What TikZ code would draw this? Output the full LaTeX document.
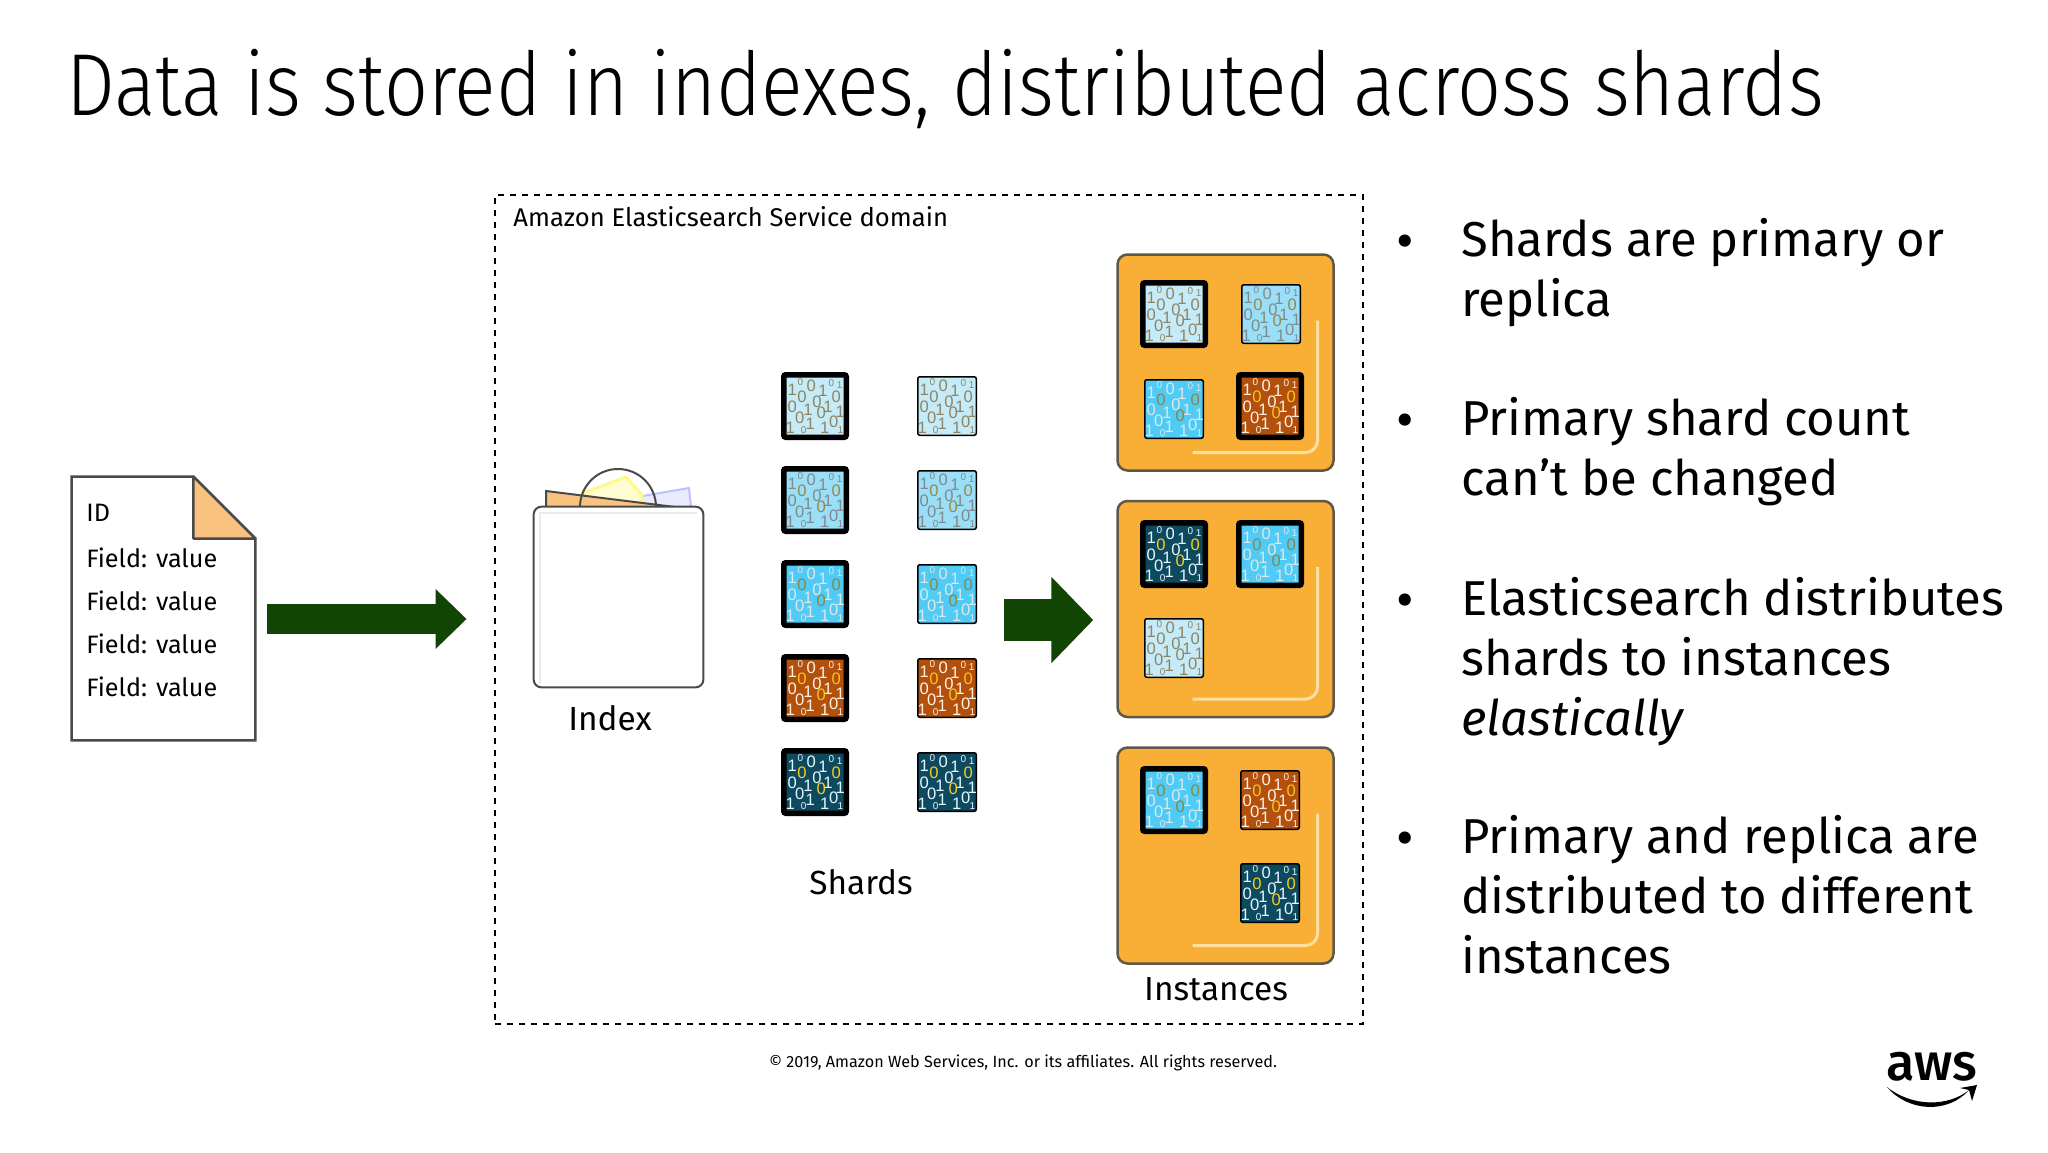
\documentclass[tikz,border=0pt]{standalone}
\usepackage{fontspec}
\setmainfont{Fira Sans}
\newfontfamily\titlefont[FakeStretch=0.878]{Fira Sans Light}
\newfontfamily\bitfont{Liberation Sans}
\newfontfamily\logofont{Fira Sans Medium}
\usetikzlibrary{shapes,arrows,arrows.meta,calc,positioning}

\definecolor{flowgreen}{HTML}{124503}
\definecolor{foldorange}{HTML}{F9C27F}
\definecolor{instorange}{HTML}{F9AE35}
\definecolor{instedge}{HTML}{5F5747}
\definecolor{docedge}{HTML}{4A4A4A}
\definecolor{palefill}{HTML}{C5EBF8}
\definecolor{midfill}{HTML}{9ADFF7}
\definecolor{skyfill}{HTML}{4FCBF5}
\definecolor{rustfill}{HTML}{B2500C}
\definecolor{tealfill}{HTML}{0D4A60}

\tikzset{
  shard/.style={draw=black, rounded corners=1pt, minimum size=29.25pt, inner sep=0pt, line width=0.75pt},
  primary/.style={shard, minimum size=31.25pt, line width=2.75pt},
  pale/.style={fill=palefill},
  mid/.style={fill=midfill},
  sky/.style={fill=skyfill},
  rust/.style={fill=rustfill},
  teal/.style={fill=tealfill},
  bit/.style={inner sep=0pt, font=\bitfont\fontsize{\ds}{\ds}\selectfont, text=bit\tn},
  instance/.style={draw=instedge, fill=instorange, line width=1.25pt, rounded corners=5pt, minimum width=108pt, minimum height=108pt},
  flow/.style={draw=flowgreen, -{Triangle[length=15.5pt,width=29pt]}},
  bullet/.style={anchor=north west, inner sep=0pt, align=left, font=\fontsize{24.5}{30}\selectfont},
  dot/.style={inner sep=0pt, font=\fontsize{27}{27}\selectfont},
  field/.style={anchor=base west, inner sep=0pt, font=\fontsize{12.6}{12.6}\selectfont},
  caption/.style={anchor=base, inner sep=0pt, font=\fontsize{16.7}{16.7}\selectfont}
}

% digits of one shard, offsets from its centre
\newcommand{\bits}[3]{
  \colorlet{bitp}{#2}\colorlet{bitg}{#3}
  \foreach \dx/\dy/\dg/\ds/\tn [count=\ci] in {
    -22.7/-16.3/1/8.3/p, -14.7/-24.3/0/5/p, -3.7/-20.3/0/8.3/p, 8/-15.7/1/8.3/p, 16.3/-22.7/0/5/p, 24.7/-21/1/5/p,
    -22.7/0.3/0/8.3/p, -13/-9.7/0/8.3/g, -7/3.7/1/8.3/p, 2/-4.7/0/8.3/p, 13/0.3/1/8.3/p, 6.3/7/0/8.3/g, 21.3/-9.7/0/8.3/g, 25.3/6/1/8.3/p,
    -24.7/21.3/1/8.3/p, -15.3/12/0/8.3/p, -11.3/23.7/0/5/p, -4.7/18/1/8.3/p, 9.7/22/1/8.3/p, 18.7/15.3/0/8.3/p, 25.3/24.3/1/5/p}
    \node[bit] (#1b\ci) at ([shift={(\dx,\dy)}]#1.center) {\dg};
}
\definecolor{palebit}{HTML}{8E8464}
\definecolor{midbit}{HTML}{7E8A8E}
\definecolor{midgold}{HTML}{968A44}
\definecolor{skybit}{HTML}{DCE8EA}
\definecolor{skygold}{HTML}{8E8640}
\newcommand{\palebits}[1]{\bits{#1}{palebit}{palebit}}
\newcommand{\midbits}[1]{\bits{#1}{midbit}{midgold}}
\newcommand{\skybits}[1]{\bits{#1}{skybit}{skygold}}
\newcommand{\rustbits}[1]{\bits{#1}{white!90!orange}{yellow!50!orange!90!white}}
\newcommand{\tealbits}[1]{\bits{#1}{white!90!cyan}{yellow!60!orange!90!white}}

\begin{document}
\begin{tikzpicture}[x=0.5pt, y=-0.5pt]
  \useasboundingbox (0,0) rectangle (2048,1152);

  \node[anchor=base west, inner sep=0pt, font=\titlefont\fontsize{44}{44}\selectfont] (title) at (66,115)
    {Data is stored in indexes, distributed across shards};

  % domain box
  \node[draw, dashed, line width=0.75pt, minimum width=434pt, minimum height=414.5pt, inner sep=0pt] (domain) at (929,609.5) {};
  \node[anchor=base west, inner sep=0pt, font=\fontsize{12.8}{12.8}\selectfont] (domainlabel) at (513,226)
    {Amazon Elasticsearch Service domain};

  % document
  \node[minimum width=91.5pt, minimum height=131.5pt, inner sep=0pt] (doc) at (163.5,608.5) {};
  \draw[draw=docedge, line width=1.25pt, fill=white] (doc.north west) -- ($(doc.north east)+(-62,0)$)
    -- ($(doc.north east)+(0,62)$) -- (doc.south east) -- (doc.south west) -- cycle;
  \draw[draw=docedge, line width=1.25pt, fill=foldorange, line join=round] ($(doc.north east)+(-62,0)$)
    -- ($(doc.north east)+(0,62)$) -- ($(doc.north east)+(-62,62)$) -- cycle;
  \node[field] (id) at (86,521) {ID};
  \node[field] (f1) at (86,567) {Field: value};
  \node[field] (f2) at (86,610) {Field: value};
  \node[field] (f3) at (86,653) {Field: value};
  \node[field] (f4) at (86,696) {Field: value};

  % index bag
  \node[minimum width=84.5pt, minimum height=90pt, inner sep=0pt] (index) at (618.5,597) {};
  \draw[draw=blue!25!white, line width=1pt, fill=blue!8!white] (631,498) -- (689,488) -- (691,507) -- (637,507) -- cycle;
  \draw[draw=yellow!45!white, line width=1.5pt, fill=yellow!18!white] (583,493) -- (626,477) -- (642,495) -- (642,507) -- (587,500) -- cycle;
  \draw[draw=docedge, line width=1pt, fill=foldorange] (546,491) -- (675,507) -- (546,507) -- cycle;
  \draw[draw=docedge, line width=1pt] (580,507) arc[start angle=180, end angle=360, radius=38];
  \draw[draw=docedge, line width=1pt, fill=white, rounded corners=4pt] (index.south west) -- (index.north west) -- (index.north east) -- (index.south east) -- cycle;
  \draw[draw=blue!8!gray!15!white, line width=1pt] ($(index.south west)+(6,-4)$) -- ($(index.north west)+(6,6)$) -- ($(index.north east)+(-6,6)$);
  \node[caption] (indexlabel) at (610,730) {Index};

  % shard columns
  \node[primary, pale] (p1) at (815,406) {};
  \node[primary, mid, on grid, below=47pt of p1] (p2) {};
  \node[primary, sky, on grid, below=47pt of p2] (p3) {};
  \node[primary, rust, on grid, below=47pt of p3] (p4) {};
  \node[primary, teal, on grid, below=47pt of p4] (p5) {};
  \node[shard, pale, on grid, right=66pt of p1] (r1) {};
  \node[shard, mid, on grid, right=66pt of p2] (r2) {};
  \node[shard, sky, on grid, right=66pt of p3] (r3) {};
  \node[shard, rust, on grid, right=66pt of p4] (r4) {};
  \node[shard, teal, on grid, right=66pt of p5] (r5) {};
  \palebits{p1} \midbits{p2} \skybits{p3} \rustbits{p4} \tealbits{p5}
  \palebits{r1} \midbits{r2} \skybits{r3} \rustbits{r4} \tealbits{r5}
  \node[caption] (shardslabel) at (861,894) {Shards};

  % instances
  \foreach \inst/\cy in {i1/362.5, i2/609, i3/855.5} {
    \node[instance] (\inst) at (1225.5,\cy) {};
    \draw[draw=yellow!35!orange!35!white, line width=1.5pt, rounded corners=6pt]
      ($(\inst.center)+(92,-42)$) -- ($(\inst.center)+(92,90)$) -- ($(\inst.center)+(-33,90)$);
  }
  \node[primary, pale] (a1) at (1174,314) {};
  \node[shard, mid] (a2) at (1271,314) {};
  \node[shard, sky] (a3) at (1174,409) {};
  \node[primary, rust] (a4) at (1270,406) {};
  \node[primary, teal] (b1) at (1174,554) {};
  \node[primary, sky] (b2) at (1270,554) {};
  \node[shard, pale] (b3) at (1174,648) {};
  \node[primary, sky] (c1) at (1174,800) {};
  \node[shard, rust] (c2) at (1270,800) {};
  \node[shard, teal] (c3) at (1270,893) {};
  \palebits{a1} \midbits{a2} \skybits{a3} \rustbits{a4}
  \tealbits{b1} \skybits{b2} \palebits{b3}
  \skybits{c1} \rustbits{c2} \tealbits{c3}
  \node[caption] (instlabel) at (1216,1000) {Instances};

  % flow arrows
  \draw[flow, line width=15pt] ([shift={(12,10.5)}]doc.east) -- ([shift={(-67,22)}]index.west);
  \draw[flow, line width=21pt, -{Triangle[length=21pt,width=42pt]}] ([shift={(27,26)}]r3.east) -- ([shift={(-23,11)}]i2.west);

  % bullets
  \node[dot] (d1) at (1405,247) {•};
  \node[dot] (d2) at (1405,426) {•};
  \node[dot] (d3) at (1405,606) {•};
  \node[dot] (d4) at (1405,844) {•};
  \node[bullet] (t1) at (1461,218) {Shards are primary or\\replica};
  \node[bullet] (t2) at (1461,397) {Primary shard count\\can’t be changed};
  \node[bullet] (t3) at (1461,577) {Elasticsearch distributes\\shards to instances\\\textit{elastically}};
  \node[bullet] (t4) at (1461,815) {Primary and replica are\\distributed to different\\instances};

  \node[anchor=base, inner sep=0pt, font=\fontsize{8.1}{8.1}\selectfont] (copyright) at (1023,1067)
    {© 2019, Amazon Web Services, Inc. or its affiliates. All rights reserved.};

  % logo
  \node[inner sep=0pt, anchor=base, font=\logofont\fontsize{26}{26}\selectfont] (aws) at (1932,1080) {aws};
  \fill (1887,1087) .. controls (1912,1107) and (1948,1107) .. (1969,1090) .. controls (1948,1114) and (1908,1112) .. cycle;
  \fill (1960,1088) -- (1977,1085) -- (1972,1101) -- (1969,1090) -- cycle;
\end{tikzpicture}
\end{document}
